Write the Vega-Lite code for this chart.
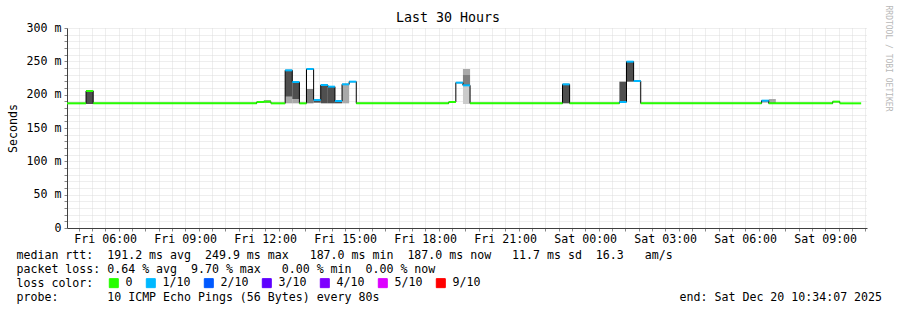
{
  "$schema": "https://vega.github.io/schema/vega-lite/v6.json",
  "width": 800,
  "height": 200,
  "autosize": "none",
  "padding": {"left": 67, "top": 28, "right": 30, "bottom": 82},
  "background": "white",
  "config": {"view": {"stroke": null}, "font": "DejaVu Sans Mono"},
  "title": {"text": "Last 30 Hours", "anchor": "middle", "frame": "group", "dx": -19, "dy": 21, "offset": 2, "font": "DejaVu Sans Mono", "fontSize": 13.3, "fontWeight": "normal", "color": "black"},
  "datasets": {
    "segments": [
      {"start": "2025-12-19T04:34:07Z", "end": "2025-12-19T05:17:00Z", "median": 187, "loss": "0"},
      {"start": "2025-12-19T05:17:00Z", "end": "2025-12-19T05:33:00Z", "median": 205.5, "loss": "0"},
      {"start": "2025-12-19T05:33:00Z", "end": "2025-12-19T11:41:00Z", "median": 187, "loss": "0"},
      {"start": "2025-12-19T11:41:00Z", "end": "2025-12-19T11:57:00Z", "median": 189, "loss": "0"},
      {"start": "2025-12-19T11:57:00Z", "end": "2025-12-19T12:13:00Z", "median": 189.5, "loss": "0"},
      {"start": "2025-12-19T12:13:00Z", "end": "2025-12-19T12:45:00Z", "median": 187, "loss": "0"},
      {"start": "2025-12-19T12:45:00Z", "end": "2025-12-19T13:01:00Z", "median": 236.5, "loss": "1/10"},
      {"start": "2025-12-19T13:01:00Z", "end": "2025-12-19T13:17:00Z", "median": 219, "loss": "1/10"},
      {"start": "2025-12-19T13:17:00Z", "end": "2025-12-19T13:33:00Z", "median": 187, "loss": "0"},
      {"start": "2025-12-19T13:33:00Z", "end": "2025-12-19T13:49:00Z", "median": 238.5, "loss": "1/10"},
      {"start": "2025-12-19T13:49:00Z", "end": "2025-12-19T14:05:00Z", "median": 192, "loss": "1/10"},
      {"start": "2025-12-19T14:05:00Z", "end": "2025-12-19T14:21:00Z", "median": 214.5, "loss": "1/10"},
      {"start": "2025-12-19T14:21:00Z", "end": "2025-12-19T14:37:00Z", "median": 212, "loss": "1/10"},
      {"start": "2025-12-19T14:37:00Z", "end": "2025-12-19T14:53:00Z", "median": 190.5, "loss": "1/10"},
      {"start": "2025-12-19T14:53:00Z", "end": "2025-12-19T15:09:00Z", "median": 215.5, "loss": "1/10"},
      {"start": "2025-12-19T15:09:00Z", "end": "2025-12-19T15:25:00Z", "median": 219.5, "loss": "1/10"},
      {"start": "2025-12-19T15:25:00Z", "end": "2025-12-19T18:53:00Z", "median": 187, "loss": "0"},
      {"start": "2025-12-19T18:53:00Z", "end": "2025-12-19T19:09:00Z", "median": 189, "loss": "0"},
      {"start": "2025-12-19T19:09:00Z", "end": "2025-12-19T19:25:00Z", "median": 218, "loss": "1/10"},
      {"start": "2025-12-19T19:25:00Z", "end": "2025-12-19T19:41:00Z", "median": 214, "loss": "1/10"},
      {"start": "2025-12-19T19:41:00Z", "end": "2025-12-19T23:09:00Z", "median": 187, "loss": "0"},
      {"start": "2025-12-19T23:09:00Z", "end": "2025-12-19T23:25:00Z", "median": 215.5, "loss": "1/10"},
      {"start": "2025-12-19T23:25:00Z", "end": "2025-12-20T01:17:00Z", "median": 187, "loss": "0"},
      {"start": "2025-12-20T01:17:00Z", "end": "2025-12-20T01:33:00Z", "median": 189, "loss": "1/10"},
      {"start": "2025-12-20T01:33:00Z", "end": "2025-12-20T01:49:00Z", "median": 249.5, "loss": "1/10"},
      {"start": "2025-12-20T01:49:00Z", "end": "2025-12-20T02:05:00Z", "median": 220.5, "loss": "1/10"},
      {"start": "2025-12-20T02:05:00Z", "end": "2025-12-20T06:37:00Z", "median": 187, "loss": "0"},
      {"start": "2025-12-20T06:37:00Z", "end": "2025-12-20T06:53:00Z", "median": 191, "loss": "1/10"},
      {"start": "2025-12-20T06:53:00Z", "end": "2025-12-20T09:17:00Z", "median": 187, "loss": "0"},
      {"start": "2025-12-20T09:17:00Z", "end": "2025-12-20T09:33:00Z", "median": 189.5, "loss": "0"},
      {"start": "2025-12-20T09:33:00Z", "end": "2025-12-20T10:21:00Z", "median": 187, "loss": "0"}
    ],
    "smoke": [
      {"start": "2025-12-19T05:17:00Z", "end": "2025-12-19T05:33:00Z", "lo": 186, "hi": 207, "band": "l4"},
      {"start": "2025-12-19T11:57:00Z", "end": "2025-12-19T12:13:00Z", "lo": 188, "hi": 192, "band": "l2"},
      {"start": "2025-12-19T12:45:00Z", "end": "2025-12-19T13:01:00Z", "lo": 187, "hi": 197, "band": "l2"},
      {"start": "2025-12-19T12:45:00Z", "end": "2025-12-19T13:01:00Z", "lo": 197, "hi": 237, "band": "l4"},
      {"start": "2025-12-19T13:01:00Z", "end": "2025-12-19T13:17:00Z", "lo": 187, "hi": 193.5, "band": "l2"},
      {"start": "2025-12-19T13:01:00Z", "end": "2025-12-19T13:17:00Z", "lo": 193.5, "hi": 219, "band": "l4"},
      {"start": "2025-12-19T13:33:00Z", "end": "2025-12-19T13:49:00Z", "lo": 187, "hi": 208.5, "band": "l3"},
      {"start": "2025-12-19T13:49:00Z", "end": "2025-12-19T14:05:00Z", "lo": 188, "hi": 192, "band": "l4"},
      {"start": "2025-12-19T14:05:00Z", "end": "2025-12-19T14:21:00Z", "lo": 187, "hi": 214, "band": "l4"},
      {"start": "2025-12-19T14:21:00Z", "end": "2025-12-19T14:37:00Z", "lo": 187, "hi": 211.5, "band": "l4"},
      {"start": "2025-12-19T14:37:00Z", "end": "2025-12-19T14:53:00Z", "lo": 187, "hi": 190, "band": "l4"},
      {"start": "2025-12-19T14:53:00Z", "end": "2025-12-19T15:09:00Z", "lo": 187, "hi": 215, "band": "l2"},
      {"start": "2025-12-19T19:25:00Z", "end": "2025-12-19T19:41:00Z", "lo": 186, "hi": 238.5, "band": "l1"},
      {"start": "2025-12-19T19:25:00Z", "end": "2025-12-19T19:41:00Z", "lo": 229.5, "hi": 238.5, "band": "l2"},
      {"start": "2025-12-19T19:25:00Z", "end": "2025-12-19T19:41:00Z", "lo": 214.5, "hi": 229.5, "band": "l3"},
      {"start": "2025-12-19T23:09:00Z", "end": "2025-12-19T23:25:00Z", "lo": 187, "hi": 215, "band": "l4"},
      {"start": "2025-12-20T01:17:00Z", "end": "2025-12-20T01:33:00Z", "lo": 188.5, "hi": 219.5, "band": "l4"},
      {"start": "2025-12-20T01:33:00Z", "end": "2025-12-20T01:49:00Z", "lo": 219.5, "hi": 249.5, "band": "l4"},
      {"start": "2025-12-20T06:37:00Z", "end": "2025-12-20T06:53:00Z", "lo": 188, "hi": 192, "band": "l2"},
      {"start": "2025-12-20T06:53:00Z", "end": "2025-12-20T07:09:00Z", "lo": 187, "hi": 193.5, "band": "l2"}
    ]
  },
  "resolve": {"axis": {"y": "independent"}},
  "layer": [
    {
      "data": {"name": "smoke"},
      "mark": {"type": "rect"},
      "encoding": {
        "x": {
          "field": "start", "type": "temporal",
          "scale": {"type": "utc", "domain": [1766118847000, 1766226847000], "nice": false},
          "axis": {
            "title": [
              "median rtt:\u00a0\u00a0191.2 ms avg\u00a0\u00a0249.9 ms max\u00a0\u00a0\u00a0187.0 ms min\u00a0\u00a0187.0 ms now\u00a0\u00a0\u00a011.7 ms sd\u00a0\u00a016.3\u00a0\u00a0\u00a0am/s",
              "packet loss: 0.64 % avg\u00a0\u00a09.70 % max\u00a0\u00a0\u00a00.00 % min\u00a0\u00a00.00 % now",
              "loss color:",
              "probe:\u00a0\u00a0\u00a0\u00a0\u00a0\u00a0\u00a010 ICMP Echo Pings (56 Bytes) every 80s\u00a0\u00a0\u00a0\u00a0\u00a0\u00a0\u00a0\u00a0\u00a0\u00a0\u00a0\u00a0\u00a0\u00a0\u00a0\u00a0\u00a0\u00a0\u00a0\u00a0\u00a0\u00a0\u00a0\u00a0\u00a0\u00a0\u00a0\u00a0\u00a0\u00a0\u00a0\u00a0\u00a0\u00a0\u00a0\u00a0\u00a0\u00a0\u00a0\u00a0\u00a0\u00a0\u00a0end: Sat Dec 20 10:34:07 2025"
            ],
            "titleFont": "DejaVu Sans Mono", "titleFontSize": 11.6, "titleFontWeight": "normal", "titleColor": "black",
            "titleLineHeight": 14, "titleAnchor": "start", "titleAlign": "left", "titleBaseline": "alphabetic",
            "titleX": -51, "titleY": 30, "titlePadding": 0,
            "tickCount": 1000,
            "values": [1766120400000, 1766122200000, 1766124000000, 1766125800000, 1766127600000, 1766129400000, 1766131200000, 1766133000000, 1766134800000, 1766136600000, 1766138400000, 1766140200000, 1766142000000, 1766143800000, 1766145600000, 1766147400000, 1766149200000, 1766151000000, 1766152800000, 1766154600000, 1766156400000, 1766158200000, 1766160000000, 1766161800000, 1766163600000, 1766165400000, 1766167200000, 1766169000000, 1766170800000, 1766172600000, 1766174400000, 1766176200000, 1766178000000, 1766179800000, 1766181600000, 1766183400000, 1766185200000, 1766187000000, 1766188800000, 1766190600000, 1766192400000, 1766194200000, 1766196000000, 1766197800000, 1766199600000, 1766201400000, 1766203200000, 1766205000000, 1766206800000, 1766208600000, 1766210400000, 1766212200000, 1766214000000, 1766215800000, 1766217600000, 1766219400000, 1766221200000, 1766223000000, 1766224800000, 1766226600000],
            "labelExpr": "(utcminutes(datum.value) == 0 && utchours(datum.value) % 3 == 0) ? utcFormat(datum.value, '%a %H:%M') : ''",
            "labelFont": "DejaVu Sans Mono", "labelFontSize": 11.6, "labelColor": "black", "labelPadding": 2,
            "labelOverlap": false, "labelFlush": false, "labelBound": false,
            "tickSize": 3,
            "grid": true, "gridDash": [1, 1], "gridWidth": 1,
            "domainColor": "#404040", "domainWidth": 1,
            "encode": {
              "grid": {"update": {"stroke": {"signal": "utcminutes(datum.value) == 0 ? '#f2a3a3' : '#d4d4d4'"}}},
              "ticks": {"update": {"stroke": {"signal": "utcminutes(datum.value) == 0 ? '#e58a8a' : 'transparent'"}}}
            }
          }
        },
        "x2": {"field": "end"},
        "y": {
          "field": "lo", "type": "quantitative",
          "scale": {"domain": [0, 300], "nice": false, "zero": true},
          "axis": {
            "title": "Seconds", "titleFont": "DejaVu Sans Mono", "titleFontSize": 11.6, "titleFontWeight": "normal", "titleColor": "black",
            "titlePadding": 8,
            "tickCount": 1000,
            "values": [0, 10, 20, 30, 40, 50, 60, 70, 80, 90, 100, 110, 120, 130, 140, 150, 160, 170, 180, 190, 200, 210, 220, 230, 240, 250, 260, 270, 280, 290, 300],
            "labelExpr": "datum.value % 50 == 0 ? (datum.value == 0 ? '0\u00a0\u00a0' : datum.value + ' m') : ''",
            "labelFont": "DejaVu Sans Mono", "labelFontSize": 11.6, "labelColor": "black", "labelPadding": 3,
            "labelOverlap": false, "labelFlush": false, "labelBound": false,
            "tickSize": 3,
            "grid": true, "gridDash": [1, 1], "gridWidth": 1,
            "domainColor": "#404040", "domainWidth": 1,
            "encode": {
              "grid": {"update": {"stroke": {"signal": "datum.value % 50 == 0 ? '#f2a3a3' : '#d4d4d4'"}}},
              "ticks": {"update": {"stroke": {"signal": "datum.value % 50 == 0 ? '#e58a8a' : '#c8c8c8'"}}}
            }
          }
        },
        "y2": {"field": "hi"},
        "fill": {
          "field": "band", "type": "nominal",
          "scale": {"domain": ["l1", "l2", "l3", "l4"], "range": ["#cbcbcb", "#a9a9a9", "#7f7f7f", "#4f4f4f"]},
          "legend": null
        }
      }
    },
    {
      "data": {"name": "segments"},
      "mark": {"type": "line", "interpolate": "step-after", "color": "black", "strokeWidth": 1},
      "encoding": {
        "x": {"field": "start", "type": "temporal"},
        "y": {
          "field": "median", "type": "quantitative",
          "axis": {
            "orient": "right", "title": "RRDTOOL / TOBI OETIKER", "labels": false, "ticks": false, "domain": false, "grid": false,
            "titleAngle": 90, "titleFont": "DejaVu Sans Mono", "titleFontSize": 8, "titleColor": "#b8b8b8", "titleFontWeight": "normal",
            "titleX": 20, "titleY": -23, "titleAlign": "left", "titleBaseline": "middle"
          }
        }
      }
    },
    {
      "data": {"name": "segments"},
      "mark": {"type": "rule", "strokeWidth": 2},
      "encoding": {
        "x": {"field": "start", "type": "temporal"},
        "x2": {"field": "end"},
        "y": {"field": "median", "type": "quantitative", "axis": null},
        "color": {
          "field": "loss", "type": "nominal",
          "scale": {"domain": ["0", "1/10", "2/10", "3/10", "4/10", "5/10", "9/10"], "range": ["#26ff00", "#00b8ff", "#0059ff", "#5e00ff", "#7e00ff", "#dd00ff", "#ff0000"]},
          "legend": {
            "title": null, "orient": "none", "legendX": 41, "legendY": 249, "direction": "horizontal",
            "symbolType": "square", "symbolSize": 81, "symbolStrokeColor": "black", "symbolStrokeWidth": 1,
            "labelFont": "DejaVu Sans Mono", "labelFontSize": 11.6, "labelColor": "black", "labelOffset": 6,
            "columnPadding": 11, "padding": 0,
            "encode": {"symbols": {"update": {"fill": {"scale": "color", "field": "value"}, "fillOpacity": {"value": 1}, "stroke": {"value": "black"}, "strokeWidth": {"value": 1}}}}
          }
        }
      }
    }
  ]
}
